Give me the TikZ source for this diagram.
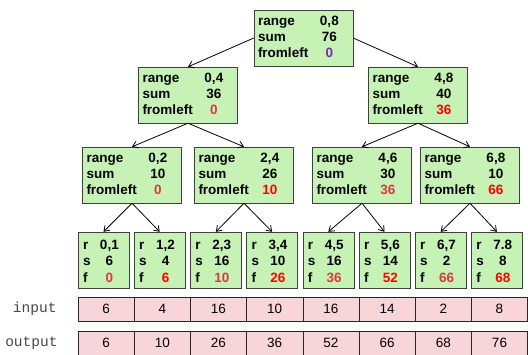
\documentclass[tikz,border=0pt]{standalone}
\usepackage{fontspec}
\setmainfont{Liberation Sans}
\setmonofont{Liberation Mono}
\usepackage{array}
\usetikzlibrary{arrows.meta}
\definecolor{boxgreen}{RGB}{198,242,181}
\definecolor{cellpink}{RGB}{248,213,217}
\definecolor{softred}{RGB}{214,58,64}
\definecolor{hotred}{RGB}{255,0,0}
\definecolor{rootpurple}{RGB}{112,48,160}
\definecolor{lblgray}{RGB}{70,70,70}
\tikzstyle{sumbox}=[draw=black!75, fill=boxgreen, minimum width=99pt, minimum height=56pt, inner xsep=4pt, inner ysep=0pt, text width=91pt, align=left, font=\fontsize{13.5}{16}\selectfont\bfseries]
\tikzstyle{leafbox}=[draw=black!75, fill=boxgreen, minimum width=51pt, minimum height=56pt, inner xsep=5pt, inner ysep=0pt, text width=41pt, align=left, font=\fontsize{13.5}{16}\selectfont\bfseries]
\tikzstyle{cell}=[draw=black!85, fill=cellpink, minimum width=56.2pt, minimum height=24pt, inner sep=0pt, font=\fontsize{13.5}{16}\selectfont]
\tikzstyle{lbl}=[anchor=east, text=lblgray, font=\ttfamily\fontsize{14.5}{16}\selectfont]
\newcommand{\sumtext}[3]{\begin{tabular}{@{}p{62pt}@{}c@{}}range & #1\\ sum & #2\\ fromleft & #3\end{tabular}}
\newcommand{\leaftext}[3]{\raisebox{-2.5pt}[\height][\depth]{\begin{tabular}{@{}p{17pt}@{}c@{}}r & #1\\[0.7pt] s & #2\\[0.7pt] f & #3\end{tabular}}}

\begin{document}
\begin{tikzpicture}[x=1pt,y=-1pt,node distance=56.2pt,>={Straight Barb[length=5pt,width=7pt]}]
      \useasboundingbox (0,0) rectangle (528,354);

      % tree
      \node [sumbox] (r08) at (303.5,38) {\sumtext{0,8}{76}{\textcolor{rootpurple}{0}}};

      \node [sumbox] (r04) at (188,95) {\sumtext{0,4}{36}{\textcolor{softred}{0}}};
      \node [sumbox] (r48) at (418,95) {\sumtext{4,8}{40}{\textcolor{hotred}{36}}};

      \node [sumbox] (r02) at (132,175) {\sumtext{0,2}{10}{\textcolor{softred}{0}}};
      \node [sumbox] (r24) at (244,175) {\sumtext{2,4}{26}{\textcolor{hotred}{10}}};
      \node [sumbox] (r46) at (362,175) {\sumtext{4,6}{30}{\textcolor{softred}{36}}};
      \node [sumbox] (r68) at (470,175) {\sumtext{6,8}{10}{\textcolor{hotred}{66}}};

      % leaves
      \node [leafbox] (r01) at (103.5,260) {\leaftext{0,1}{6}{\textcolor{softred}{0}}};
      \node [leafbox] (r12) [right of=r01] {\leaftext{1,2}{4}{\textcolor{hotred}{6}}};
      \node [leafbox] (r23) [right of=r12] {\leaftext{2,3}{16}{\textcolor{softred}{10}}};
      \node [leafbox] (r34) [right of=r23] {\leaftext{3,4}{10}{\textcolor{hotred}{26}}};
      \node [leafbox] (r45) [right of=r34] {\leaftext{4,5}{16}{\textcolor{softred}{36}}};
      \node [leafbox] (r56) [right of=r45] {\leaftext{5,6}{14}{\textcolor{hotred}{52}}};
      \node [leafbox] (r67) [right of=r56] {\leaftext{6,7}{2}{\textcolor{softred}{66}}};
      \node [leafbox] (r78) [right of=r67] {\leaftext{7.8}{8}{\textcolor{hotred}{68}}};

      % input and output rows
      \node [lbl] (inlbl) at (60,309) {input};
      \node [lbl] (outlbl) at (61,343) {output};

      \node [cell] (in1) at (106.1,309) {6};
      \node [cell] (in2) [right of=in1] {4};
      \node [cell] (in3) [right of=in2] {16};
      \node [cell] (in4) [right of=in3] {10};
      \node [cell] (in5) [right of=in4] {16};
      \node [cell] (in6) [right of=in5] {14};
      \node [cell] (in7) [right of=in6] {2};
      \node [cell] (in8) [right of=in7] {8};

      \node [cell] (out1) [below of=in1, node distance=34pt] {6};
      \node [cell] (out2) [right of=out1] {10};
      \node [cell] (out3) [right of=out2] {26};
      \node [cell] (out4) [right of=out3] {36};
      \node [cell] (out5) [right of=out4] {52};
      \node [cell] (out6) [right of=out5] {66};
      \node [cell] (out7) [right of=out6] {68};
      \node [cell] (out8) [right of=out7] {76};

      \path[->, line width=0.8pt] (r08.west) edge node {} (r04.north);
      \path[->, line width=0.8pt] (r08.east) edge node {} (r48.north);

      \path[->, line width=0.8pt] (r04.south) edge node {} (r02.north);
      \path[->, line width=0.8pt] (r04.south) edge node {} (r24.north);
      \path[->, line width=0.8pt] (r48.south) edge node {} (r46.north);
      \path[->, line width=0.8pt] (r48.south) edge node {} (r68.north);

      \path[->, line width=0.8pt] (r02.south) edge node {} (r01.north);
      \path[->, line width=0.8pt] (r02.south) edge node {} (r12.north);
      \path[->, line width=0.8pt] (r24.south) edge node {} (r23.north);
      \path[->, line width=0.8pt] (r24.south) edge node {} (r34.north);
      \path[->, line width=0.8pt] (r46.south) edge node {} (r45.north);
      \path[->, line width=0.8pt] (r46.south) edge node {} (r56.north);
      \path[->, line width=0.8pt] (r68.south) edge node {} (r67.north);
      \path[->, line width=0.8pt] (r68.south) edge node {} (r78.north);
  \end{tikzpicture}
\end{document}
